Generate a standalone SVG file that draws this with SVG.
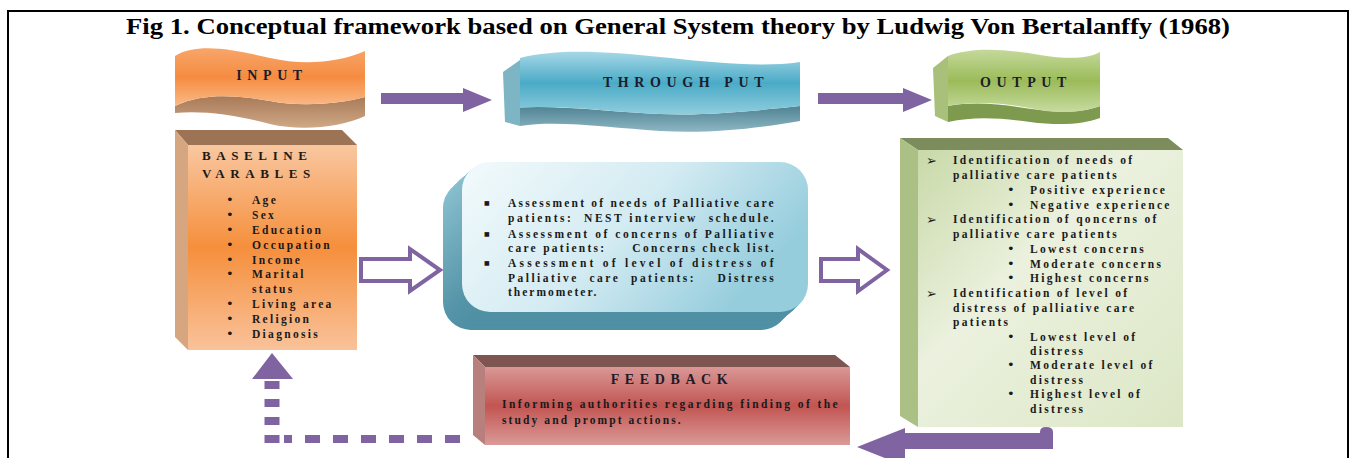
<svg xmlns="http://www.w3.org/2000/svg" width="1353" height="458" viewBox="0 0 1353 458">
  <defs>
    <linearGradient id="gOrange" x1="0" y1="0" x2="0" y2="1">
      <stop offset="0" stop-color="#F8A56A"/>
      <stop offset="0.5" stop-color="#F58C40"/>
      <stop offset="1" stop-color="#FAB987"/>
    </linearGradient>
    <linearGradient id="gBrown" x1="0" y1="0" x2="0" y2="1">
      <stop offset="0" stop-color="#A87A58"/>
      <stop offset="1" stop-color="#CFA886"/>
    </linearGradient>
    <linearGradient id="gBlue" x1="0" y1="0" x2="0" y2="1">
      <stop offset="0" stop-color="#A6D7E6"/>
      <stop offset="0.5" stop-color="#4AABC6"/>
      <stop offset="1" stop-color="#90CDDE"/>
    </linearGradient>
    <linearGradient id="gBlueUnder" x1="0" y1="0" x2="0" y2="1">
      <stop offset="0" stop-color="#4F8393"/>
      <stop offset="1" stop-color="#8DB6C2"/>
    </linearGradient>
    <linearGradient id="gGreen" x1="0" y1="0" x2="0" y2="1">
      <stop offset="0" stop-color="#C4D99A"/>
      <stop offset="0.5" stop-color="#9BBB59"/>
      <stop offset="1" stop-color="#C7DBA0"/>
    </linearGradient>
    <linearGradient id="gBaseFront" x1="0" y1="0" x2="0" y2="1">
      <stop offset="0" stop-color="#F9C7A0"/>
      <stop offset="0.5" stop-color="#F58F3C"/>
      <stop offset="1" stop-color="#F9C29A"/>
    </linearGradient>
    <linearGradient id="gMid" x1="0" y1="0" x2="1" y2="0.4">
      <stop offset="0" stop-color="#F3FAFC"/>
      <stop offset="0.55" stop-color="#D3EBF2"/>
      <stop offset="1" stop-color="#96CDDD"/>
    </linearGradient>
    <linearGradient id="gMidSide" x1="0" y1="0" x2="0" y2="1">
      <stop offset="0" stop-color="#8CC3D2"/>
      <stop offset="1" stop-color="#4F8FA3"/>
    </linearGradient>
    <linearGradient id="gOutFront" x1="0" y1="0" x2="1" y2="1">
      <stop offset="0" stop-color="#C9D9A8"/>
      <stop offset="0.4" stop-color="#EBF1DE"/>
      <stop offset="1" stop-color="#DCE7C6"/>
    </linearGradient>
    <linearGradient id="gRed" x1="0" y1="0" x2="0" y2="1">
      <stop offset="0" stop-color="#D99896"/>
      <stop offset="0.5" stop-color="#C25552"/>
      <stop offset="1" stop-color="#DA9A98"/>
    </linearGradient>
    <rect id="midFace" width="346" height="150" rx="28"/>
  </defs>
  <style>
    .title { font-family: "Liberation Serif", serif; font-weight: bold; font-size: 24px; fill: #000; }
    .lbl { font-family: "Liberation Serif", serif; font-weight: bold; font-size: 14px; fill: #1C1C2A; letter-spacing: 5.6px; }
    .txt { font-family: "Liberation Serif", serif; font-weight: bold; font-size: 11.5px; fill: #1A1A1A; letter-spacing: 2.3px; }
    .bul { font-family: "DejaVu Sans", sans-serif; font-size: 13px; fill: #1A1A1A; }
    .conn { fill: #8064A2; }
    .hollow { fill: #FFFFFF; stroke: #8064A2; stroke-width: 4; stroke-linejoin: miter; }
  </style>

  <!-- frame and caption -->
  <path d="M8,458 V11 H1348 V458" fill="none" stroke="#000" stroke-width="2"/>
  <text class="title" x="678" y="34" text-anchor="middle" textLength="1104" lengthAdjust="spacingAndGlyphs">Fig 1. Conceptual framework based on General System theory by Ludwig Von Bertalanffy (1968)</text>

  <!-- stage banners -->
  <g id="input-banner">
    <path d="M175,106 C205,92 240,96 270,101 C300,107 340,104 365,97 L365,116 C340,128 300,131 270,124 C240,116 205,110 175,113 Z" fill="url(#gBrown)"/>
    <path d="M175,56 C198,42 235,50 270,58 C305,66 340,62 365,51 L365,97 C340,104 300,107 270,101 C240,96 205,92 175,106 Z" fill="url(#gOrange)"/>
    <text class="lbl" x="272" y="80" text-anchor="middle">INPUT</text>
  </g>
  <g id="throughput-banner">
    <path d="M505,108 C560,104 610,112 660,114 C710,116 760,110 800,106 L800,121 C760,128 710,134 660,131 C610,128 560,120 520,126 Z" fill="url(#gBlueUnder)"/>
    <path d="M503,72 L520,60 L520,126 L505,122 Z" fill="#7DB5C4"/>
    <path d="M520,58 C560,48 610,52 660,57 C710,62 760,68 800,62 L800,106 C760,110 710,116 660,114 C610,112 560,104 520,108 Z" fill="url(#gBlue)"/>
    <text class="lbl" x="686" y="87" text-anchor="middle">THROUGH PUT</text>
  </g>
  <g id="output-banner">
    <path d="M948,106 C980,100 1010,106 1040,110 C1070,114 1090,110 1100,106 L1100,118 C1085,124 1060,126 1030,122 C1000,118 975,116 948,122 Z" fill="#7E9A4E"/>
    <path d="M933,68 L948,56 L948,122 L935,116 Z" fill="#A9C07A"/>
    <path d="M948,56 C975,46 1010,50 1040,55 C1070,60 1090,58 1100,52 L1100,106 C1085,112 1060,114 1040,110 C1010,104 980,100 948,106 Z" fill="url(#gGreen)"/>
    <text class="lbl" x="1026" y="87" text-anchor="middle">OUTPUT</text>
  </g>

  <!-- input variables box -->
  <g id="baseline-box">
    <polygon points="175,130 342,130 357,145 188,145" fill="#9C7455"/>
    <polygon points="175,130 188,145 188,350 175,337" fill="#D6A680"/>
    <rect x="188" y="145" width="169" height="205" fill="url(#gBaseFront)"/>
    <text class="txt" x="202" y="160" style="font-size:13px;letter-spacing:5.6px">BASELINE</text>
    <text class="txt" x="202" y="178" style="font-size:13px;letter-spacing:5.6px">VARABLES</text>
    <g class="bul">
      <text x="226" y="204">•</text><text x="226" y="219">•</text><text x="226" y="234">•</text>
      <text x="226" y="249">•</text><text x="226" y="264">•</text><text x="226" y="278">•</text>
      <text x="226" y="308">•</text><text x="226" y="323">•</text><text x="226" y="338">•</text>
    </g>
    <text class="txt" x="252" y="204">Age</text>
    <text class="txt" x="252" y="219">Sex</text>
    <text class="txt" x="252" y="234">Education</text>
    <text class="txt" x="252" y="249">Occupation</text>
    <text class="txt" x="252" y="264">Income</text>
    <text class="txt" x="252" y="278">Marital</text>
    <text class="txt" x="252" y="293">status</text>
    <text class="txt" x="252" y="308">Living area</text>
    <text class="txt" x="252" y="323">Religion</text>
    <text class="txt" x="252" y="338">Diagnosis</text>
  </g>

  <!-- throughput assessment box -->
  <g id="assessment-box">
    <g fill="url(#gMidSide)">
      <use href="#midFace" x="443" y="180"/>
      <use href="#midFace" x="447" y="176"/>
      <use href="#midFace" x="451" y="172"/>
      <use href="#midFace" x="455" y="169"/>
      <use href="#midFace" x="459" y="165"/>
    </g>
    <use href="#midFace" x="462" y="162" fill="url(#gMid)"/>
    <g class="bul" style="font-size:6px">
      <text x="484" y="205">■</text><text x="484" y="236">■</text><text x="484" y="265">■</text>
    </g>
    <text class="txt" x="508" y="207" textLength="268">Assessment of needs of Palliative care</text>
    <text class="txt" x="508" y="222" textLength="268" xml:space="preserve">patients:  NEST interview  schedule.</text>
    <text class="txt" x="508" y="238" textLength="268">Assessment of concerns of Palliative</text>
    <text class="txt" x="508" y="252" textLength="268" xml:space="preserve">care patients:     Concerns check list.</text>
    <text class="txt" x="508" y="267" textLength="268">Assessment of level of distress of</text>
    <text class="txt" x="508" y="282" textLength="268" xml:space="preserve">Palliative  care  patients:    Distress</text>
    <text class="txt" x="508" y="296" style="letter-spacing:2px">thermometer.</text>
  </g>

  <!-- output findings box -->
  <g id="output-box">
    <polygon points="900,138 1168,138 1183,150 918,150" fill="#7D8C5C"/>
    <polygon points="900,138 918,150 918,427 900,416" fill="#ABC084"/>
    <rect x="918" y="150" width="265" height="277" fill="url(#gOutFront)"/>
    <g class="bul" style="font-size:13px">
      <text x="926" y="165">➢</text><text x="926" y="224">➢</text><text x="926" y="298">➢</text>
    </g>
    <g class="bul">
      <text x="1007" y="194">•</text><text x="1007" y="209">•</text>
      <text x="1007" y="253">•</text><text x="1007" y="268">•</text><text x="1007" y="282">•</text>
      <text x="1007" y="341">•</text><text x="1007" y="369">•</text><text x="1007" y="398">•</text>
    </g>
    <text class="txt" x="953" y="164">Identification of needs of</text>
    <text class="txt" x="953" y="179">palliative care patients</text>
    <text class="txt" x="1030" y="194">Positive experience</text>
    <text class="txt" x="1030" y="209">Negative experience</text>
    <text class="txt" x="953" y="223">Identification of qoncerns of</text>
    <text class="txt" x="953" y="238">palliative care patients</text>
    <text class="txt" x="1030" y="253">Lowest concerns</text>
    <text class="txt" x="1030" y="268">Moderate concerns</text>
    <text class="txt" x="1030" y="282">Highest concerns</text>
    <text class="txt" x="953" y="297">Identification of level of</text>
    <text class="txt" x="953" y="312">distress of palliative care</text>
    <text class="txt" x="953" y="326">patients</text>
    <text class="txt" x="1030" y="341">Lowest level of</text>
    <text class="txt" x="1030" y="355">distress</text>
    <text class="txt" x="1030" y="369">Moderate level of</text>
    <text class="txt" x="1030" y="384">distress</text>
    <text class="txt" x="1030" y="398">Highest level of</text>
    <text class="txt" x="1030" y="413">distress</text>
  </g>

  <!-- feedback box -->
  <g id="feedback-box">
    <polygon points="473,355 835,355 850,367 485,367" fill="#7F5551"/>
    <polygon points="473,355 485,367 485,445 473,435" fill="#B7807C"/>
    <rect x="485" y="367" width="365" height="78" fill="url(#gRed)"/>
    <text class="lbl" x="672" y="384" text-anchor="middle">FEEDBACK</text>
    <text class="txt" x="502" y="408" textLength="338">Informing authorities regarding finding of the</text>
    <text class="txt" x="502" y="424" style="letter-spacing:2.1px">study and prompt actions.</text>
  </g>

  <!-- connectors -->
  <g id="connectors">
    <polygon class="conn" points="381,93 463,93 463,88 492,100 463,112 463,104 381,104"/>
    <polygon class="conn" points="818,93 903,93 903,88 932,100 903,112 903,104 818,104"/>
    <path class="hollow" d="M361,259 H410 V249 L440,270 L410,291 V281 H361 Z"/>
    <path class="hollow" d="M821,259 H858 V249 L887,270 L858,291 V281 H821 Z"/>
    <path class="conn" d="M1040,432 Q1040,427 1046,427 Q1053,427 1053,432 V449 H903 V433 H1040 Z"/>
    <polygon class="conn" points="905,428 857,447 905,466"/>
    <path d="M460,439 H284" fill="none" stroke="#8064A2" stroke-width="8" stroke-dasharray="15 13"/>
    <path d="M272,443 V381" fill="none" stroke="#8064A2" stroke-width="15" stroke-dasharray="8 10"/>
    <polygon class="conn" points="272,353 293,379 252,379"/>
  </g>
</svg>
